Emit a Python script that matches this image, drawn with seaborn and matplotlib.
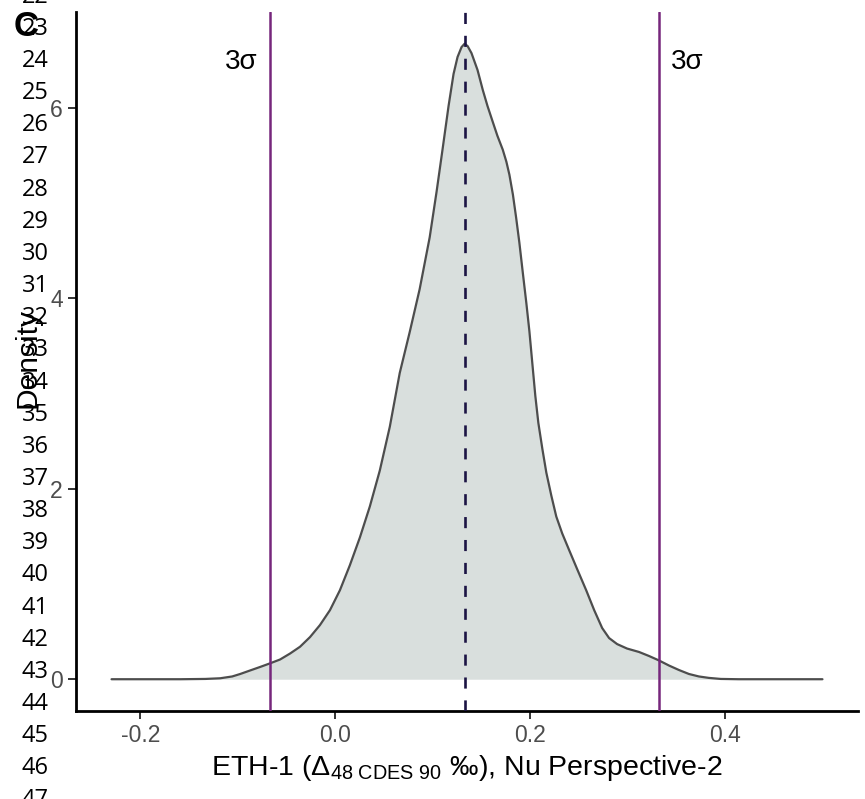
import matplotlib
matplotlib.use("Agg")
import matplotlib.pyplot as plt
import seaborn as sns

# Kernel density of the ETH-1 replicate measurements (x in per mil, y density)
dens_x = [-0.2297, -0.1591, -0.1335, -0.1182, -0.1059, -0.0977, -0.0875, -0.0772,
          -0.0670, -0.0568, -0.0465, -0.0363, -0.0261, -0.0159, -0.0056, 0.0046,
          0.0148, 0.0251, 0.0353, 0.0455, 0.0558, 0.0660, 0.0762, 0.0864,
          0.0967, 0.1038, 0.1100, 0.1161, 0.1212, 0.1253, 0.1294, 0.1325,
          0.1356, 0.1396, 0.1458, 0.1512, 0.1560, 0.1614, 0.1662, 0.1717,
          0.1754, 0.1785, 0.1821, 0.1854, 0.1887, 0.1921, 0.1959, 0.1990,
          0.2020, 0.2051, 0.2082, 0.2123, 0.2164, 0.2215, 0.2266, 0.2327,
          0.2399, 0.2481, 0.2573, 0.2655, 0.2737, 0.2808, 0.2890, 0.2992,
          0.3115, 0.3217, 0.3320, 0.3422, 0.3524, 0.3627, 0.3729, 0.3831,
          0.3954, 0.4138, 0.4997]
dens_y = [0.000, 0.000, 0.003, 0.010, 0.029, 0.055, 0.092, 0.129,
          0.167, 0.207, 0.270, 0.341, 0.442, 0.568, 0.725, 0.934,
          1.196, 1.488, 1.813, 2.189, 2.650, 3.215, 3.643, 4.093,
          4.637, 5.118, 5.568, 6.018, 6.353, 6.531, 6.635, 6.670,
          6.646, 6.572, 6.395, 6.185, 6.018, 5.851, 5.704, 5.558,
          5.432, 5.296, 5.087, 4.846, 4.585, 4.281, 3.947, 3.654,
          3.319, 2.974, 2.691, 2.419, 2.168, 1.928, 1.708, 1.530,
          1.353, 1.154, 0.934, 0.725, 0.537, 0.432, 0.369, 0.322,
          0.286, 0.244, 0.197, 0.144, 0.097, 0.055, 0.029, 0.014,
          0.003, 0.000, 0.000]

mean_value = 0.1325
sigma_lower = -0.0670
sigma_upper = 0.3317
sigma_label = "3σ"

x_ticks = [-0.2, 0.0, 0.2, 0.4]
x_tick_labels = ["-0.2", "0.0", "0.2", "0.4"]
y_ticks = [0, 2, 4, 6]
y_tick_labels = ["0", "2", "4", "6"]

line_numbers = list(range(22, 48))

W, H = 865, 799

sns.set_style("ticks")
plt.rcParams["font.family"] = ["Liberation Sans", "DejaVu Sans"]
plt.rcParams["mathtext.fontset"] = "custom"
plt.rcParams["mathtext.rm"] = "Liberation Sans"
plt.rcParams["mathtext.it"] = "Liberation Sans:italic"
plt.rcParams["lines.scale_dashes"] = False

fig = plt.figure(figsize=(W / 100, H / 100), dpi=100)
fig.patch.set_facecolor("white")


def fx(px):
    return px / W


def fy(py):
    return 1 - py / H


ax = fig.add_axes([fx(76), fy(711), fx(858) - fx(76), fy(12) - fy(711)])
ax.set_facecolor("white")

# density area and outline
ax.fill_between(dens_x, dens_y, 0, color="#d9dfdd", linewidth=0, zorder=1)
sns.lineplot(x=dens_x, y=dens_y, sort=False, estimator=None, color="#4d4d4d",
             linewidth=1.6, ax=ax, zorder=3)
ax.lines[-1].set_solid_joinstyle("round")

# mean and 3-sigma bounds
ax.axvline(mean_value, color="#1c1444", linewidth=1.9, dashes=(8, 8.5), zorder=4)
for xv in (sigma_lower, sigma_upper):
    ax.axvline(xv, color="#76267c", linewidth=1.8, zorder=4)

ax.annotate(sigma_label, xy=(sigma_lower, 6.48), xytext=(-9, 0),
            textcoords="offset points", ha="right", va="center",
            fontsize=20, color="black")
ax.annotate(sigma_label, xy=(sigma_upper, 6.48), xytext=(9, 0),
            textcoords="offset points", ha="left", va="center",
            fontsize=20, color="black")

x_pad = 0.05 * (max(dens_x) - min(dens_x))
y_pad = 0.05 * (max(dens_y) - min(dens_y))
ax.set_xlim(min(dens_x) - x_pad, max(dens_x) + x_pad)
ax.set_ylim(min(dens_y) - y_pad, max(dens_y) + y_pad)

ax.set_xticks(x_ticks)
ax.set_xticklabels(x_tick_labels, fontsize=16.5, color="#4d4d4d")
ax.set_yticks(y_ticks)
ax.set_yticklabels(y_tick_labels, fontsize=16.5, color="#4d4d4d")
ax.tick_params(axis="both", length=5.5, width=1.4, color="#333333", pad=4)

for side in ("top", "right"):
    ax.spines[side].set_visible(False)
for side in ("left", "bottom"):
    ax.spines[side].set_linewidth(2.0)
    ax.spines[side].set_color("black")

ax.set_xlabel(r"ETH-1 (Δ$_{\mathregular{48\ CDES\ 90}}$ ‰), Nu Perspective-2",
              fontsize=20.5, color="black", labelpad=4)
ax.set_ylabel("")
fig.text(fx(28), fy(358), "Density", rotation=90, ha="center", va="center",
         fontsize=21.5, color="black")

# manuscript line numbers down the left margin
for n in line_numbers:
    fig.text(fx(22), fy(61 + (n - 24) * 32.15), str(n), ha="left", va="center",
             fontsize=17, color="black", family=["Open Sans", "DejaVu Sans"])

# panel tag
fig.text(fx(14), fy(26), "C", ha="left", va="center", fontsize=25,
         fontweight="bold", color="black")

fig.savefig("out.png", dpi=100, facecolor="white")
